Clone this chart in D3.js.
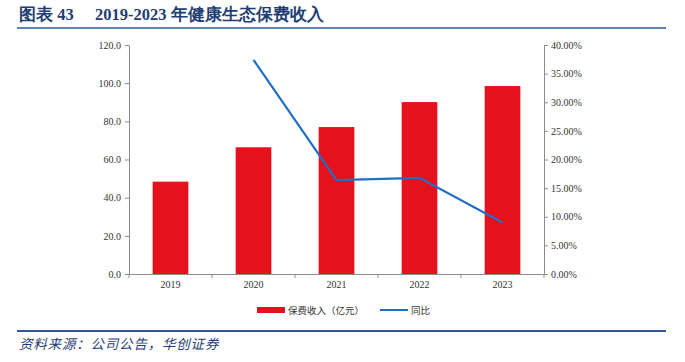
<!DOCTYPE html>
<html>
<head>
<meta charset="utf-8">
<script src="https://cdn.jsdelivr.net/npm/d3@7"></script>
<style>
  body { margin: 0; background: #fff; }
  svg { display: block; }
</style>
</head>
<body>
<svg id="chart" width="685" height="362"></svg>
<script>
// 2019-2023 健康生态保费收入
const years = ["2019", "2020", "2021", "2022", "2023"];
const premium = [48.4, 66.4, 77.0, 90.1, 98.5];      // 亿元
const yoy = [null, 0.374, 0.164, 0.168, 0.090];     // 同比
const leftTicks = [0, 20, 40, 60, 80, 100, 120];
const rightTicks = [0, 0.05, 0.10, 0.15, 0.20, 0.25, 0.30, 0.35, 0.40];

const svg = d3.select("#chart");
const m = { left: 129, right: 544, top: 45, bottom: 274 };
const navy = "#1f3d73";
const red = "#e5121e";
const blue = "#1f6fc4";
const axisColor = "#8c8c8c";
const serif = "'Liberation Serif', 'Times New Roman', serif";
const cjk = "'Noto Sans CJK SC', sans-serif";

// Title + rules
const title = svg.append("text")
    .attr("x", 19).attr("y", 20)
    .attr("fill", navy)
    .attr("font-size", 16.5).attr("font-weight", "bold")
    .attr("font-family", serif);
title.append("tspan").text("图表 43");
title.append("tspan").attr("x", 95).text("2019-2023 年健康生态保费收入");

svg.append("line").attr("x1", 17).attr("x2", 666).attr("y1", 28).attr("y2", 28)
    .attr("stroke", "#2e5a94").attr("stroke-width", 1.5);
svg.append("line").attr("x1", 17).attr("x2", 666).attr("y1", 331).attr("y2", 331)
    .attr("stroke", "#2e5a94").attr("stroke-width", 2);
svg.append("text")
    .attr("x", 19).attr("y", 349)
    .attr("fill", navy)
    .attr("font-size", 13.5).attr("font-style", "italic")
    .attr("letter-spacing", 0.8)
    .attr("font-family", cjk)
    .text("资料来源：公司公告，华创证券");

// Scales
const x = d3.scaleBand().domain(years).range([m.left, m.right]);
const yL = d3.scaleLinear().domain([0, 120]).range([m.bottom, m.top]);
const yR = d3.scaleLinear().domain([0, 0.40]).range([m.bottom, m.top]);

// Bars
const barW = x.bandwidth() * 0.43;
svg.append("g").selectAll("rect")
    .data(premium)
    .join("rect")
    .attr("x", (d, i) => x(years[i]) + (x.bandwidth() - barW) / 2)
    .attr("y", d => yL(d))
    .attr("width", barW)
    .attr("height", d => yL(0) - yL(d))
    .attr("fill", red);

// Axes
function styleAxis(g) {
    g.selectAll("path, line").attr("stroke", axisColor);
    g.selectAll("text").attr("fill", "#333").attr("font-family", serif).attr("font-size", 10);
}

svg.append("g")
    .attr("transform", `translate(${m.left},0)`)
    .call(d3.axisLeft(yL).tickValues(leftTicks).tickFormat(d3.format(".1f")).tickSize(4).tickSizeOuter(0))
    .call(styleAxis)
    .call(g => g.selectAll("text").attr("dx", -1));

svg.append("g")
    .attr("transform", `translate(${m.right},0)`)
    .call(d3.axisRight(yR).tickValues(rightTicks).tickFormat(d3.format(".2%")).tickSize(4).tickSizeOuter(0))
    .call(styleAxis);

const xAxis = svg.append("g")
    .attr("transform", `translate(0,${m.bottom})`)
    .call(d3.axisBottom(x).tickSize(0).tickSizeOuter(0))
    .call(styleAxis)
    .call(g => g.selectAll("text").attr("dy", "1.1em"));
// ticks between categories
xAxis.selectAll(".sep")
    .data(years.map(y => x(y)).concat([m.right]))
    .join("line")
    .attr("class", "sep")
    .attr("x1", d => d).attr("x2", d => d)
    .attr("y1", 0).attr("y2", 4)
    .attr("stroke", axisColor);

// YoY line
const line = d3.line()
    .defined(d => d.v != null)
    .x(d => x(d.k) + x.bandwidth() / 2)
    .y(d => yR(d.v));
svg.append("path")
    .datum(years.map((k, i) => ({ k, v: yoy[i] })))
    .attr("d", line)
    .attr("fill", "none")
    .attr("stroke", blue)
    .attr("stroke-width", 2.2);

// Legend
const lg = svg.append("g").attr("transform", "translate(257,310)");
lg.append("rect").attr("x", 0).attr("y", -3).attr("width", 28).attr("height", 6).attr("fill", red);
lg.append("text").attr("x", 31).attr("y", 4)
    .attr("font-family", cjk).attr("font-size", 9.5).attr("fill", "#333")
    .text("保费收入（亿元）");
lg.append("line").attr("x1", 123).attr("x2", 151).attr("y1", 0).attr("y2", 0)
    .attr("stroke", blue).attr("stroke-width", 2);
lg.append("text").attr("x", 154).attr("y", 4)
    .attr("font-family", cjk).attr("font-size", 9.5).attr("fill", "#333")
    .text("同比");
</script>
</body>
</html>
